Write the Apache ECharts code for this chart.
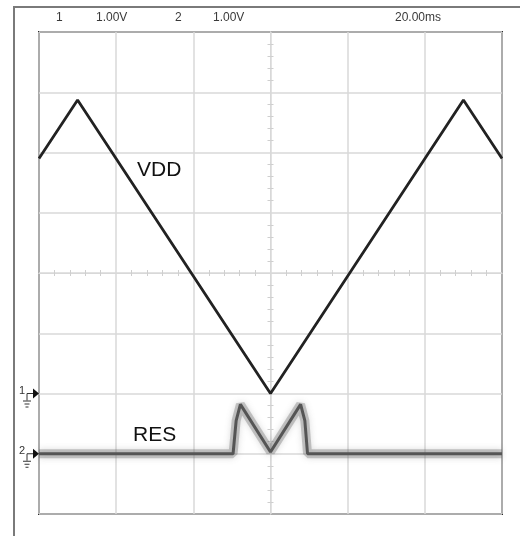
<!DOCTYPE html>
<html>
<head>
<meta charset="utf-8">
<script src="https://cdn.jsdelivr.net/npm/echarts@6/dist/echarts.min.js"></script>
<style>
  html, body { margin: 0; padding: 0; background: #fff; }
  #scope { width: 520px; height: 536px; }
</style>
</head>
<body>
<div id="scope"></div>
<script>
// Time base: 20 ms/div, 6 divisions, trigger at centre
const timeTicks = [-60, -40, -20, 0, 20, 40, 60];
// Vertical: 1.00 V/div, 8 divisions
const divTicks = [-4, -3, -2, -1, 0, 1, 2, 3, 4];

// Channel 1 (VDD), volts vs ms
const vddTime = [-60, -50, 0, 50, 60];
const vddVolts = [3.9, 4.87, 0, 4.87, 3.9];

// Channel 2 (RES), volts vs ms
const resTime = [-60, -9.7, -8.9, -7.8, 0, 7.8, 8.9, 9.6, 60];
const resVolts = [0, 0, 0.55, 0.82, 0.03, 0.82, 0.55, 0, 0];

// Channel ground offsets, in divisions from screen centre
const ch1Offset = -2;
const ch2Offset = -3;
const voltsPerDiv = 1.0;

// Header readout
const headerTexts = ['1', '1.00V', '2', '1.00V', '20.00ms'];

function trace(times, volts, offset) {
  return times.map((t, i) => [t, volts[i] / voltsPerDiv + offset]);
}

const chart = echarts.init(document.getElementById('scope'), null, { renderer: 'canvas' });
const gridCol = '#d8d8d8';

const centreAxisX = (pos) => ({
  type: 'value', min: timeTicks[0], max: timeTicks[timeTicks.length - 1], interval: 20,
  position: pos,
  axisLine: { show: true, onZero: true, lineStyle: { color: gridCol, width: 1 } },
  axisTick: { show: false },
  minorTick: { show: true, splitNumber: 5, length: 3, lineStyle: { color: '#cfcfcf', width: 1 } },
  axisLabel: { show: false },
  splitLine: { show: pos === 'bottom', lineStyle: { color: gridCol, width: 1.5 } },
  minorSplitLine: { show: false }
});
const centreAxisY = (pos) => ({
  type: 'value', min: divTicks[0], max: divTicks[divTicks.length - 1], interval: 1,
  position: pos,
  axisLine: { show: true, onZero: true, lineStyle: { color: gridCol, width: 1 } },
  axisTick: { show: false },
  minorTick: { show: true, splitNumber: 5, length: 3, lineStyle: { color: '#cfcfcf', width: 1 } },
  axisLabel: { show: false },
  splitLine: { show: pos === 'left', lineStyle: { color: gridCol, width: 1.5 } },
  minorSplitLine: { show: false }
});

chart.setOption({
  animation: false,
  backgroundColor: '#ffffff',
  grid: {
    left: 39, top: 32, right: 18, bottom: 22,
    show: true, borderColor: '#2a2a2a', borderWidth: 2, backgroundColor: 'transparent'
  },
  xAxis: [centreAxisX('bottom'), centreAxisX('top')],
  yAxis: [centreAxisY('left'), centreAxisY('right')],
  series: [
    {
      // persistence haze around the RES trace
      type: 'line', data: trace(resTime, resVolts, ch2Offset),
      showSymbol: false, z: 3,
      lineStyle: { color: 'rgba(110,110,110,0.35)', width: 9, shadowColor: 'rgba(90,90,90,0.6)', shadowBlur: 6 }
    },
    {
      type: 'line', data: trace(resTime, resVolts, ch2Offset),
      showSymbol: false, z: 4,
      lineStyle: { color: '#555555', width: 3 }
    },
    {
      type: 'line', data: trace(vddTime, vddVolts, ch1Offset),
      showSymbol: false, z: 5,
      lineStyle: { color: '#222222', width: 2.8 }
    }
  ]
});

// Ground reference markers on the left edge
function groundMarker(label, offset) {
  const y = chart.convertToPixel({ yAxisIndex: 0 }, offset);
  const c = '#333';
  return {
    type: 'group', x: 0, y: y,
    children: [
      { type: 'text', x: 19, y: -8, style: { text: label, font: '11px "Liberation Sans", Arial, sans-serif', fill: c } },
      { type: 'polyline', shape: { points: [[27, 0], [33, 0]] }, style: { stroke: c, lineWidth: 1 } },
      { type: 'polyline', shape: { points: [[27, 0], [27, 7]] }, style: { stroke: c, lineWidth: 1 } },
      { type: 'line', shape: { x1: 23, y1: 7.5, x2: 31, y2: 7.5 }, style: { stroke: c, lineWidth: 1 } },
      { type: 'line', shape: { x1: 24.5, y1: 10.5, x2: 29.5, y2: 10.5 }, style: { stroke: c, lineWidth: 1 } },
      { type: 'line', shape: { x1: 25.5, y1: 13.5, x2: 28.5, y2: 13.5 }, style: { stroke: c, lineWidth: 1 } },
      { type: 'polygon', shape: { points: [[33, -5], [39, 0], [33, 5]] }, style: { fill: '#111' } }
    ]
  };
}

const headerX = [56, 96, 175, 213, 395];
const font = '"Liberation Sans", Arial, sans-serif';

chart.setOption({
  graphic: [
    // instrument frame
    { type: 'rect', shape: { x: 14, y: 7, width: 520, height: 540 }, style: { fill: 'none', stroke: '#7a7a7a', lineWidth: 2 }, z: 0 },
    ...headerTexts.map((t, i) => ({
      type: 'text', x: headerX[i], y: 12,
      style: { text: t, font: '12px ' + font, fill: '#3a3a3a' }
    })),
    { type: 'text', x: 137, y: 160, style: { text: 'VDD', font: '21px ' + font, fill: '#111' }, z: 10 },
    { type: 'text', x: 133, y: 425, style: { text: 'RES', font: '21px ' + font, fill: '#111' }, z: 10 },
    groundMarker('1', ch1Offset),
    groundMarker('2', ch2Offset)
  ]
});
</script>
</body>
</html>
